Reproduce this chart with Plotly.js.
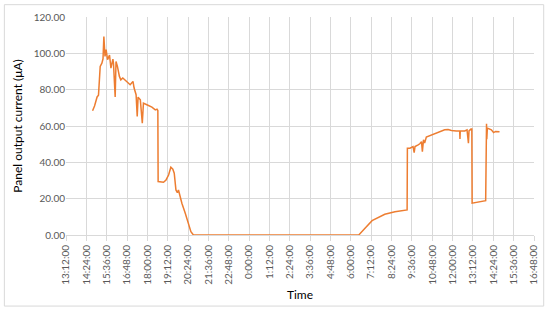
<!DOCTYPE html>
<html>
<head>
<meta charset="utf-8">
<script src="https://cdn.plot.ly/plotly-3.0.1.min.js"></script>
<style>
body { margin: 0; background: #fff; }
#myPlot { width: 550px; height: 313px; }
</style>
</head>
<body>
<div id="myPlot"></div>
<script>
// time stamps (day 1 = 2021-01-01, day 2 = 2021-01-02)
var times = [
    "2021-01-01 14:46", "2021-01-01 14:53", "2021-01-01 15:02", "2021-01-01 15:07",
    "2021-01-01 15:13", "2021-01-01 15:19", "2021-01-01 15:23", "2021-01-01 15:26",
    "2021-01-01 15:30", "2021-01-01 15:34", "2021-01-01 15:39", "2021-01-01 15:46",
    "2021-01-01 15:51", "2021-01-01 15:55", "2021-01-01 15:58", "2021-01-01 16:00",
    "2021-01-01 16:06", "2021-01-01 16:09", "2021-01-01 16:14", "2021-01-01 16:21",
    "2021-01-01 16:26", "2021-01-01 16:33", "2021-01-01 16:48", "2021-01-01 16:59",
    "2021-01-01 17:09", "2021-01-01 17:13", "2021-01-01 17:20", "2021-01-01 17:24",
    "2021-01-01 17:27", "2021-01-01 17:35", "2021-01-01 17:42", "2021-01-01 17:46",
    "2021-01-01 17:58", "2021-01-01 18:16", "2021-01-01 18:28", "2021-01-01 18:34",
    "2021-01-01 18:37", "2021-01-01 18:38", "2021-01-01 18:57", "2021-01-01 19:06",
    "2021-01-01 19:15", "2021-01-01 19:23", "2021-01-01 19:30", "2021-01-01 19:35",
    "2021-01-01 19:41", "2021-01-01 19:46", "2021-01-01 19:50", "2021-01-01 19:56",
    "2021-01-01 20:02", "2021-01-01 20:14", "2021-01-01 20:25", "2021-01-01 20:34",
    "2021-01-01 20:43", "2021-01-02 06:28", "2021-01-02 06:50", "2021-01-02 07:15",
    "2021-01-02 08:00", "2021-01-02 08:36", "2021-01-02 09:19", "2021-01-02 09:20",
    "2021-01-02 09:29", "2021-01-02 09:40", "2021-01-02 09:44", "2021-01-02 09:47",
    "2021-01-02 09:58", "2021-01-02 10:04", "2021-01-02 10:10", "2021-01-02 10:13",
    "2021-01-02 10:17", "2021-01-02 10:21", "2021-01-02 10:27", "2021-01-02 10:39",
    "2021-01-02 10:57", "2021-01-02 11:14", "2021-01-02 11:32", "2021-01-02 11:44",
    "2021-01-02 11:56", "2021-01-02 12:13", "2021-01-02 12:25", "2021-01-02 12:26",
    "2021-01-02 12:27", "2021-01-02 12:43", "2021-01-02 12:51", "2021-01-02 12:56",
    "2021-01-02 12:58", "2021-01-02 13:05", "2021-01-02 13:08", "2021-01-02 13:09",
    "2021-01-02 13:57", "2021-01-02 14:00", "2021-01-02 14:01", "2021-01-02 14:03",
    "2021-01-02 14:11", "2021-01-02 14:17", "2021-01-02 14:25", "2021-01-02 14:32",
    "2021-01-02 14:46"
];
var current = [
    68.4, 71.0, 76.0, 77.0,
    92.8, 94.6, 97.0, 109.3,
    98.3, 102.0, 96.5, 99.0,
    91.9, 95.5, 96.8, 94.5,
    76.0, 95.5, 92.8, 87.3,
    85.4, 86.4, 84.5, 82.7,
    84.5, 80.9, 77.2, 65.2,
    75.9, 74.4, 61.6, 72.6,
    71.7, 70.4, 68.9, 69.3,
    68.5, 29.4, 29.0, 30.3,
    33.0, 37.3, 36.2, 34.0,
    24.8, 23.3, 24.8, 20.2,
    17.5, 12.0, 5.5, 1.8,
    0.0, 0.0, 3.7, 7.9,
    11.4, 12.8, 13.8, 47.8,
    47.8, 48.7, 45.4, 48.7,
    49.6, 50.2, 51.4, 45.9,
    52.4, 50.6, 53.9, 54.6,
    55.7, 56.8, 57.9, 58.0,
    57.5, 57.3, 57.3, 52.9,
    57.3, 57.3, 57.9, 50.5,
    57.3, 58.3, 58.3, 17.5,
    18.9, 61.2, 52.7, 58.8,
    58.3, 57.9, 56.4, 57.0,
    56.8
];
var xStart = "2021-01-01 13:12";
var xEnd = "2021-01-02 16:48";
var tickStep = 72 * 60 * 1000;

var gridCol = "#d9d9d9";
var tickFont = { family: "Lato, 'Open Sans', sans-serif", size: 10, color: "#595959" };
var titleFont = { family: "Lato, 'Open Sans', sans-serif", size: 12, color: "#000000" };

var data = [{
    x: times,
    y: current,
    mode: "lines",
    type: "scatter",
    line: { color: "#ed7d31", width: 1.5 },
    hoverinfo: "skip"
}];

var layout = {
    width: 550,
    height: 313,
    margin: { l: 65.7, r: 15.7, t: 17.3, b: 78 },
    paper_bgcolor: "#ffffff",
    plot_bgcolor: "#ffffff",
    showlegend: false,
    xaxis: {
        type: "date",
        range: [xStart, xEnd],
        tick0: xStart,
        dtick: tickStep,
        tickformat: "%-H:%M:%S",
        tickangle: -90,
        tickfont: tickFont,
        ticks: "outside",
        ticklen: 5,
        tickcolor: gridCol,
        showgrid: true,
        gridcolor: gridCol,
        gridwidth: 1,
        showline: true,
        linecolor: gridCol,
        linewidth: 1,
        zeroline: false,
        title: { text: "Time", font: titleFont, standoff: 6 }
    },
    yaxis: {
        range: [0, 120],
        dtick: 20,
        tickformat: ".2f",
        tickfont: tickFont,
        showgrid: true,
        gridcolor: gridCol,
        gridwidth: 1,
        zeroline: false,
        showline: false,
        ticks: "",
        title: { text: "Panel output current (μA)", font: titleFont, standoff: 8 }
    },
    shapes: [{
        type: "rect",
        xref: "paper",
        yref: "paper",
        x0: -0.1317,
        x1: 1.0207,
        y0: -0.326,
        y1: 1.0565,
        line: { color: gridCol, width: 1 },
        layer: "below"
    }]
};

Plotly.newPlot("myPlot", data, layout, { staticPlot: true, displayModeBar: false });
</script>
</body>
</html>
